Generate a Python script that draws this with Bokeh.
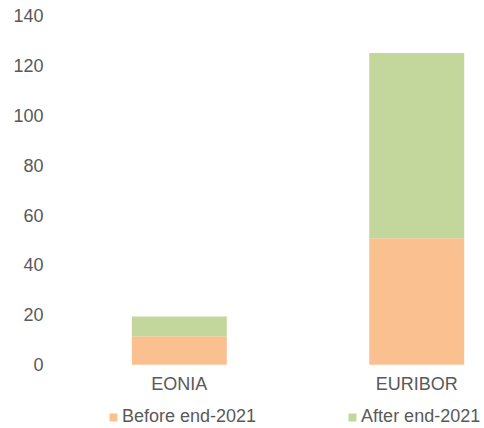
from bokeh.plotting import figure
from bokeh.models import ColumnDataSource, Range1d, Legend, LegendItem, FixedTicker
from bokeh.core.properties import value
from bokeh.embed import file_html
from bokeh.resources import INLINE

categories = ["EONIA", "EURIBOR"]
series_names = ["Before end-2021", "After end-2021"]
before_end_2021 = [11.4, 50.7]
after_end_2021 = [7.9, 74.3]
y_ticks = [0, 20, 40, 60, 80, 100, 120, 140]
colors = ["#FAC090", "#C3D69B"]

FONT = "Liberation Sans"
TXT = "#595959"
FS = "18px"

idx = list(range(len(categories)))
source = ColumnDataSource(dict(x=idx, cat=categories, base=[0] * len(idx),
                               before=before_end_2021, after=after_end_2021))

p = figure(
    x_range=Range1d(-0.332, 1.2855),
    y_range=Range1d(-25.6, 140),
    width=484, height=428,
    min_border_left=100, min_border_right=0, min_border_top=15, min_border_bottom=0,
    output_backend="svg", toolbar_location=None,
)

rs = p.vbar_stack(["before", "after"], x="x", width=0.4, source=source,
                  color=colors, line_color=None)

# category labels under the bars
p.text(x="x", y="base", text="cat", source=source, y_offset=19,
       text_align="center", text_baseline="middle",
       text_font=value(FONT), text_font_size=FS, text_color=TXT)

p.xaxis.visible = False
p.xgrid.visible = False
p.ygrid.visible = False
p.outline_line_color = None
p.background_fill_color = "white"
p.border_fill_color = "white"

p.yaxis.ticker = FixedTicker(ticks=y_ticks)
ax = p.yaxis[0]
ax.axis_line_color = None
ax.major_tick_line_color = None
ax.minor_tick_line_color = None
ax.major_tick_out = 0
ax.major_tick_in = 0
ax.minor_tick_out = 0
ax.major_label_text_font = FONT
ax.major_label_text_font_size = FS
ax.major_label_text_color = TXT
ax.major_label_standoff = 57

lg = Legend(items=[LegendItem(label=n, renderers=[r]) for r, n in zip(rs, series_names)],
            orientation="horizontal", location=(8, 1),
            padding=0, margin=0, spacing=91,
            border_line_color=None, background_fill_alpha=0,
            glyph_width=10, glyph_height=10, label_standoff=4,
            label_text_font=FONT, label_text_font_size=FS,
            label_text_color=TXT, label_height=20)
p.add_layout(lg, "center")

open("out.html", "w").write(file_html(p, INLINE))
